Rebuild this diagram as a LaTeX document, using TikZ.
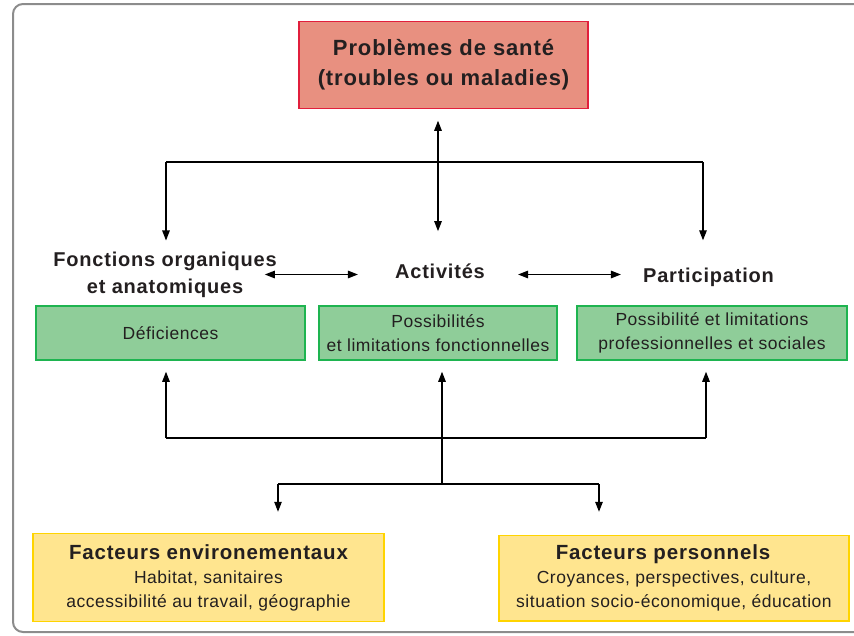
\documentclass[tikz,border=0pt]{standalone}
\usepackage{fontspec}
\setmainfont{Liberation Sans}[LetterSpace=3,BoldFeatures={LetterSpace=4}]
\usetikzlibrary{arrows.meta,positioning}

\definecolor{framegray}{HTML}{8C8C8C}
\definecolor{inkgray}{HTML}{231F20}
\definecolor{probfill}{HTML}{E89080}
\definecolor{probline}{HTML}{E11F3C}
\definecolor{greenfill}{HTML}{8FCD99}
\definecolor{greenline}{HTML}{1EB450}
\definecolor{yellowfill}{HTML}{FFE58F}
\definecolor{yellowline}{HTML}{FFD400}

\tikzset{
  box/.style={draw, line width=1.5pt, inner sep=0pt, align=center, text=inkgray},
  probbox/.style={box, fill=probfill, draw=probline, minimum width=289pt, minimum height=87pt, font=\bfseries\fontsize{22}{30}\selectfont},
  greenbox/.style={box, fill=greenfill, draw=greenline, minimum height=54pt, font=\fontsize{17.5}{24}\selectfont},
  yellowbox/.style={box, fill=yellowfill, draw=yellowline, minimum height=88pt, font=\fontsize{17.5}{24}\selectfont},
  heading/.style={inner sep=0pt, align=center, text=inkgray, font=\bfseries\fontsize{20}{27}\selectfont},
  conn/.style={line width=1.3pt, draw=black},
  arr/.style={conn, -{Triangle[length=10pt,width=7.5pt]}},
  dbl/.style={conn, {Triangle[length=10pt,width=7.5pt]}-{Triangle[length=10pt,width=7.5pt]}},
}

\begin{document}
\begin{tikzpicture}[x=1pt,y=-1pt]
\useasboundingbox (0,0) rectangle (854,635);
\draw[framegray, line width=2pt, rounded corners=10pt] (13,4) rectangle (880,632);

\node (prob) [probbox] at (443.5,65) {Problèmes de santé\\(troubles ou maladies)};

\node (fonct) [heading] at (165,274.5) {Fonctions organiques\\et anatomiques};
\node (activ) [heading, anchor=base] at (440,278) {Activités};
\node (partic) [heading, anchor=base] at (708.5,282) {Participation};

\node (defic) [greenbox, minimum width=269pt] at (170.5,333) {Déficiences};
\node (possib) [greenbox, minimum width=238pt] at (438,333) {Possibilités\\et limitations fonctionnelles};
\node (limit) [greenbox, minimum width=270pt] at (712,333) {Possibilité et limitations\\professionnelles et sociales};

\node (envir) [yellowbox, minimum width=351pt] at (208.5,577.5) {{\bfseries\fontsize{20.5}{24}\selectfont Facteurs environementaux}\\Habitat, sanitaires\\accessibilité au travail, géographie};
\node (perso) [yellowbox, minimum width=350pt, minimum height=85.5pt] at (674,578.3) {{\bfseries\fontsize{20.5}{24}\selectfont Facteurs personnels}\hspace*{22pt}\\Croyances, perspectives, culture,\\situation socio-économique, éducation};

\coordinate (barL) at (166,162);
\coordinate (barR) at (703,162);
\coordinate (hubT) at (438,162);
\draw[conn] (barL) -- (barR);
\draw[arr, shorten >=11pt] (barL) -- (barL |- fonct.north);
\draw[arr, shorten >=27pt] (barR) -- (barR |- partic.north);
\draw[dbl, shorten <=11.5pt, shorten >=32pt] (hubT |- prob.south) -- (hubT |- activ.north);

\draw[dbl, shorten <=-12pt, shorten >=37pt] (fonct.east) -- (fonct.east -| activ.west);
\draw[dbl, shorten <=33pt, shorten >=22pt] (activ.east |- fonct.east) -- (partic.west |- fonct.east);

\coordinate (busL) at (166,438);
\coordinate (busR) at (706,438);
\coordinate (hubB) at (442,484);
\coordinate (lowL) at (278,484);
\coordinate (lowR) at (599,484);
\draw[conn] (busL) -- (busR);
\draw[arr, shorten >=11pt] (busL) -- (busL |- defic.south);
\draw[arr, shorten >=11pt] (busR) -- (busR |- limit.south);
\draw[arr, shorten >=11pt] (hubB) -- (hubB |- possib.south);
\draw[conn] (lowL) -- (lowR);
\draw[arr, shorten >=21pt] (lowL) -- (lowL |- envir.north);
\draw[arr, shorten >=23pt] (lowR) -- (lowR |- perso.north);
\end{tikzpicture}
\end{document}
